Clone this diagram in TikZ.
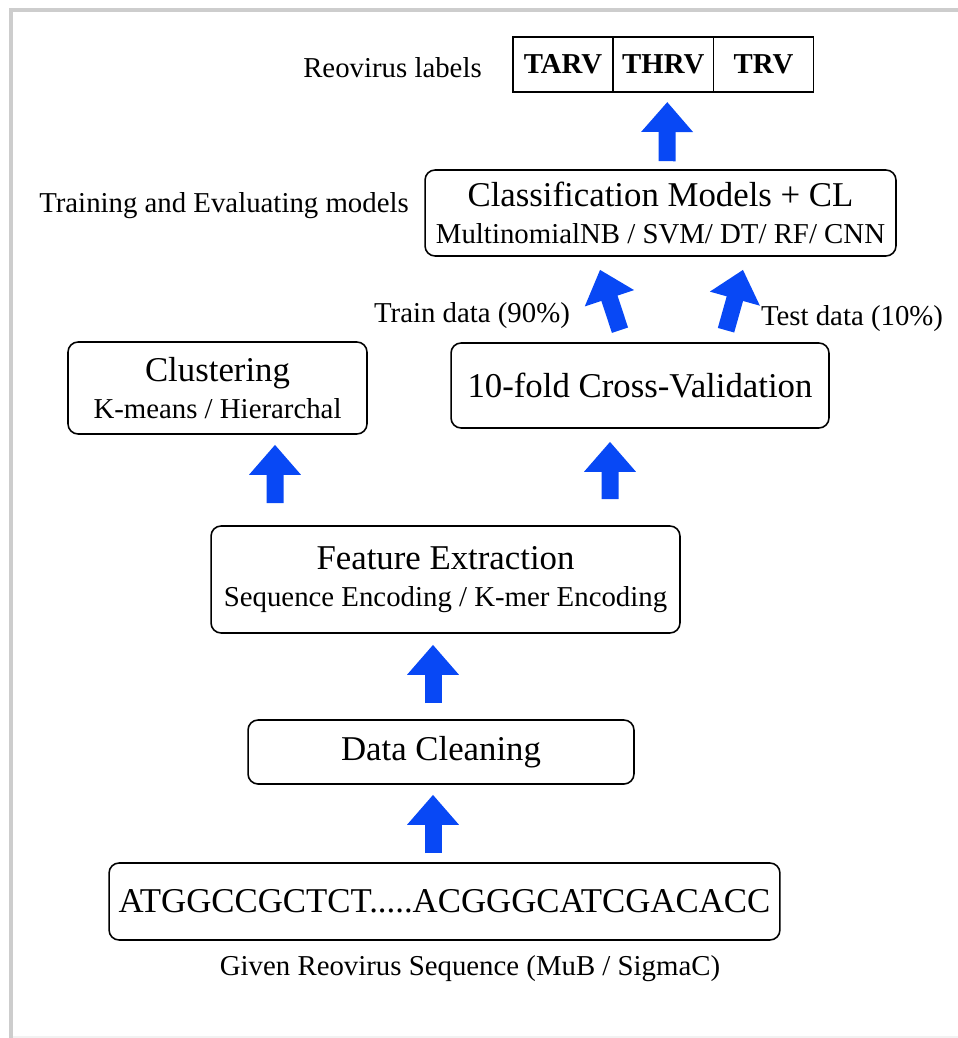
\documentclass[tikz,border=0pt]{standalone}
\usepackage{fontspec}
\setmainfont{Liberation Serif}
\usetikzlibrary{arrows.meta,calc,positioning}
\definecolor{arrowblue}{RGB}{8,72,245}
\definecolor{framegray}{RGB}{205,205,205}
\newcommand\bigtxt{\fontsize{19.8}{21}\selectfont}
\newcommand\smalltxt{\fontsize{16.4}{21}\selectfont}
\begin{document}
\begin{tikzpicture}[x=0.02cm,y=0.02cm]
	\tikzstyle{box} = [draw, rounded corners=0.2cm, line width=0.9pt, inner sep=0pt, align=center, font=\smalltxt]
	\tikzstyle{cell} = [draw, line width=0.9pt, inner sep=0pt, outer sep=0pt, minimum width=2.006cm, minimum height=1.1cm, font=\smalltxt\bfseries]
	\tikzstyle{note} = [anchor=base, inner sep=0pt, font=\smalltxt]
	\tikzstyle{bigarrow} = [draw=arrowblue, line width=0.34cm, -{Triangle[length=0.6cm,width=1cm,fill=arrowblue]}]
	\useasboundingbox (0,0) rectangle (957,-1038);
	% frame
	\draw[framegray, line width=0.08cm] (965,-9.5) -- (11,-9.5) -- (11,-1045);
	\draw[gray!10, line width=0.04cm] (13,-1036.5) -- (965,-1036.5);
	% labels
	\node[cell] (tarv) at (563,-64.5) {TARV};
	\node[cell, right=0pt of tarv] (thrv) {THRV};
	\node[cell, right=0pt of thrv] (trv) {TRV};
	\node[note] (lablbl) at (392.5,-77) {Reovirus labels};
	% boxes
	\node[box, minimum width=9.42cm, minimum height=1.72cm] (cls) at (660.5,-213)
		{{\bigtxt Classification Models + CL}\\MultinomialNB / SVM/ DT/ RF/ CNN};
	\node[note] (clslbl) at (224,-212) {Training and Evaluating models};
	\node[box, minimum width=5.98cm, minimum height=1.84cm] (clu) at (217.5,-388)
		{{\bigtxt Clustering}\\K-means / Hierarchal};
	\node[box, minimum width=7.56cm, minimum height=1.7cm, font=\bigtxt] (cv) at (640,-385.5) {10-fold Cross-Validation};
	\node[note] (trainlbl) at (472,-322) {Train data (90\%)};
	\node[note] (testlbl) at (852,-325) {Test data (10\%)};
	\node[box, minimum width=9.38cm, minimum height=2.14cm] (fe) at (445.5,-579.5)
		{{\bigtxt Feature Extraction}\\Sequence Encoding / K-mer Encoding};
	\node[box, minimum width=7.72cm, minimum height=1.28cm, font=\bigtxt] (dc) at (441,-752) {Data Cleaning};
	\node[box, minimum width=13.42cm, minimum height=1.54cm, font=\bigtxt] (seq) at (444.5,-901.5) {ATGGCCGCTCT.....ACGGGCATCGACACC};
	\node[note] (seqlbl) at (470,-975) {Given Reovirus Sequence (MuB / SigmaC)};
	% arrows
	\draw[bigarrow] ($(seq.north)+(-11.5,9)$) -- ($(dc.south)+(-8,-10)$);
	\draw[bigarrow] ($(dc.north)+(-8,16)$) -- ($(fe.south)+(-12.5,-11)$);
	\draw[bigarrow] ($(fe.north)+(-170.5,22)$) -- ($(clu.south)+(57.5,-10)$);
	\draw[bigarrow] ($(fe.north)+(164.5,26)$) -- ($(cv.south)+(-30,-13)$);
	\draw[bigarrow] ($(cv.north)+(-20,12)$) -- ($(cls.south)+(-60.5,-13)$);
	\draw[bigarrow] ($(cv.north)+(86,12)$) -- ($(cls.south)+(82.5,-13)$);
	\draw[bigarrow] ($(cls.north)+(6.5,8)$) -- ($(thrv.south)+(4,-10)$);
\end{tikzpicture}
\end{document}
